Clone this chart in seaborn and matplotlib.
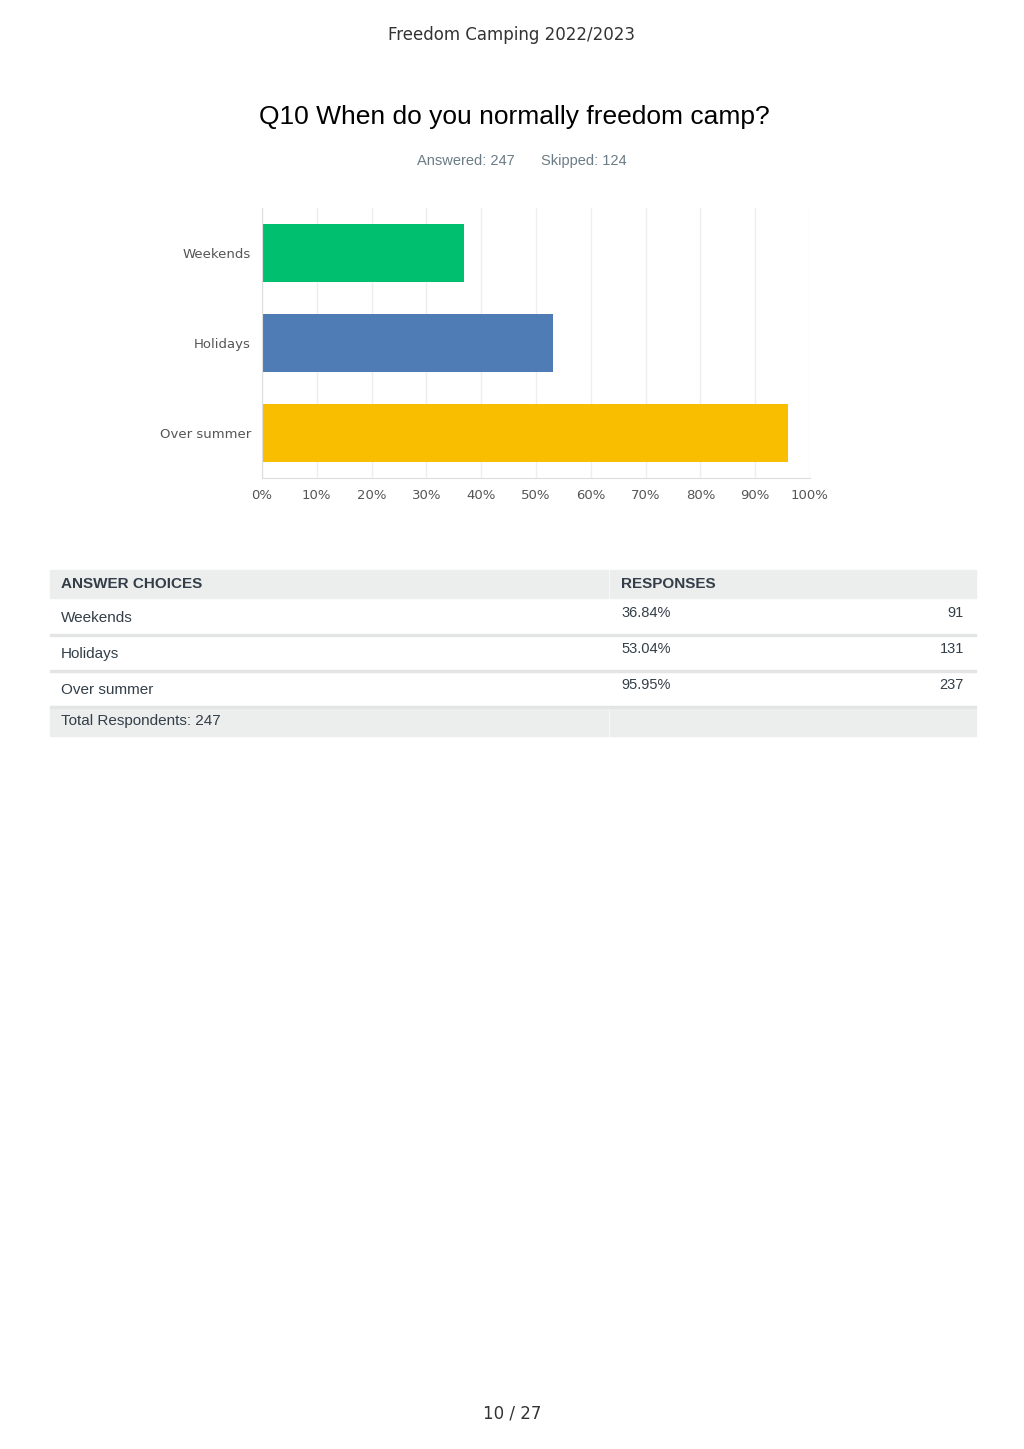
import matplotlib
matplotlib.use("Agg")
import matplotlib.pyplot as plt
import seaborn as sns
import pandas as pd
from matplotlib.patches import Rectangle

choices = ["Weekends", "Holidays", "Over summer"]
percents = [36.84, 53.04, 95.95]
counts = [91, 131, 237]
colors = ["#00BF6F", "#507CB6", "#F9BE00"]
answered = 247
skipped = 124

W, H = 1024, 1449
fig = plt.figure(figsize=(W / 100, H / 100), dpi=100)


def fx(x):
    return x / W


def fy(y):
    return 1 - y / H


def txt(x, y, s, **kw):
    fig.text(fx(x), fy(y), s, **kw)


txt(512, 35, "Freedom Camping 2022/2023", ha="center", va="center",
    fontsize=12, color="#333333", family="DejaVu Sans")
txt(514, 117, "Q10 When do you normally freedom camp?", ha="center",
    va="center", fontsize=19, color="#000000", family="Liberation Sans")
txt(466, 161, f"Answered: {answered}", ha="center", va="center",
    fontsize=10.5, color="#6b7b85", family="Liberation Sans")
txt(584, 161, f"Skipped: {skipped}", ha="center", va="center",
    fontsize=10.5, color="#6b7b85", family="Liberation Sans")

ax = fig.add_axes([fx(262), fy(478), fx(810) - fx(262), (478 - 208) / H])
df = pd.DataFrame({"choice": choices, "pct": percents})
sns.barplot(data=df, x="pct", y="choice", hue="choice", palette=colors,
            width=0.65, legend=False, ax=ax, saturation=1)
ax.set_xlim(0, 100)
ax.set_ylim(2.5, -0.5)
ax.set_xticks(range(0, 101, 10))
ax.set_xticklabels([f"{v}%" for v in range(0, 101, 10)])
ax.set_xlabel("")
ax.set_ylabel("")
ax.grid(axis="x", color="#eeeeee", linewidth=1)
ax.set_axisbelow(True)
for s in ["top", "right"]:
    ax.spines[s].set_visible(False)
ax.spines["left"].set_color("#dddddd")
ax.spines["bottom"].set_color("#dddddd")
ax.tick_params(length=0, labelsize=9.5, colors="#555555", pad=8)
for lab in ax.get_xticklabels() + ax.get_yticklabels():
    lab.set_family("DejaVu Sans")

# table
grey = "#eceeee"


def rect(x0, y0, x1, y1, color):
    fig.patches.append(Rectangle((fx(x0), fy(y1)), fx(x1) - fx(x0),
                                 (y1 - y0) / H, transform=fig.transFigure,
                                 color=color, zorder=0))


rect(50, 570, 608, 598, grey)
rect(610, 570, 976, 598, grey)
rect(50, 708, 608, 736, grey)
rect(610, 708, 976, 736, grey)
for yl in [634, 670, 706]:
    rect(50, yl, 976, yl + 1.5, "#e3e5e5")

tk = dict(va="center", family="Liberation Sans", color="#333e48")
txt(61, 584, "ANSWER CHOICES", fontsize=11, weight="bold", **tk)
txt(621, 584, "RESPONSES", fontsize=11, weight="bold", **tk)
row_y = [618, 654, 690]
for c, p, n, y in zip(choices, percents, counts, row_y):
    txt(61, y, c, fontsize=11, **tk)
    txt(621, y - 5, f"{p:.2f}%", fontsize=10.5, **tk)
    txt(964, y - 5, str(n), fontsize=10.5, ha="right", **tk)
txt(61, 721, f"Total Respondents: {answered}", fontsize=11, **tk)

txt(512, 1414, "10 / 27", ha="center", va="center", fontsize=12,
    color="#333333", family="DejaVu Sans")

fig.savefig("out.png", dpi=100, facecolor="white")
